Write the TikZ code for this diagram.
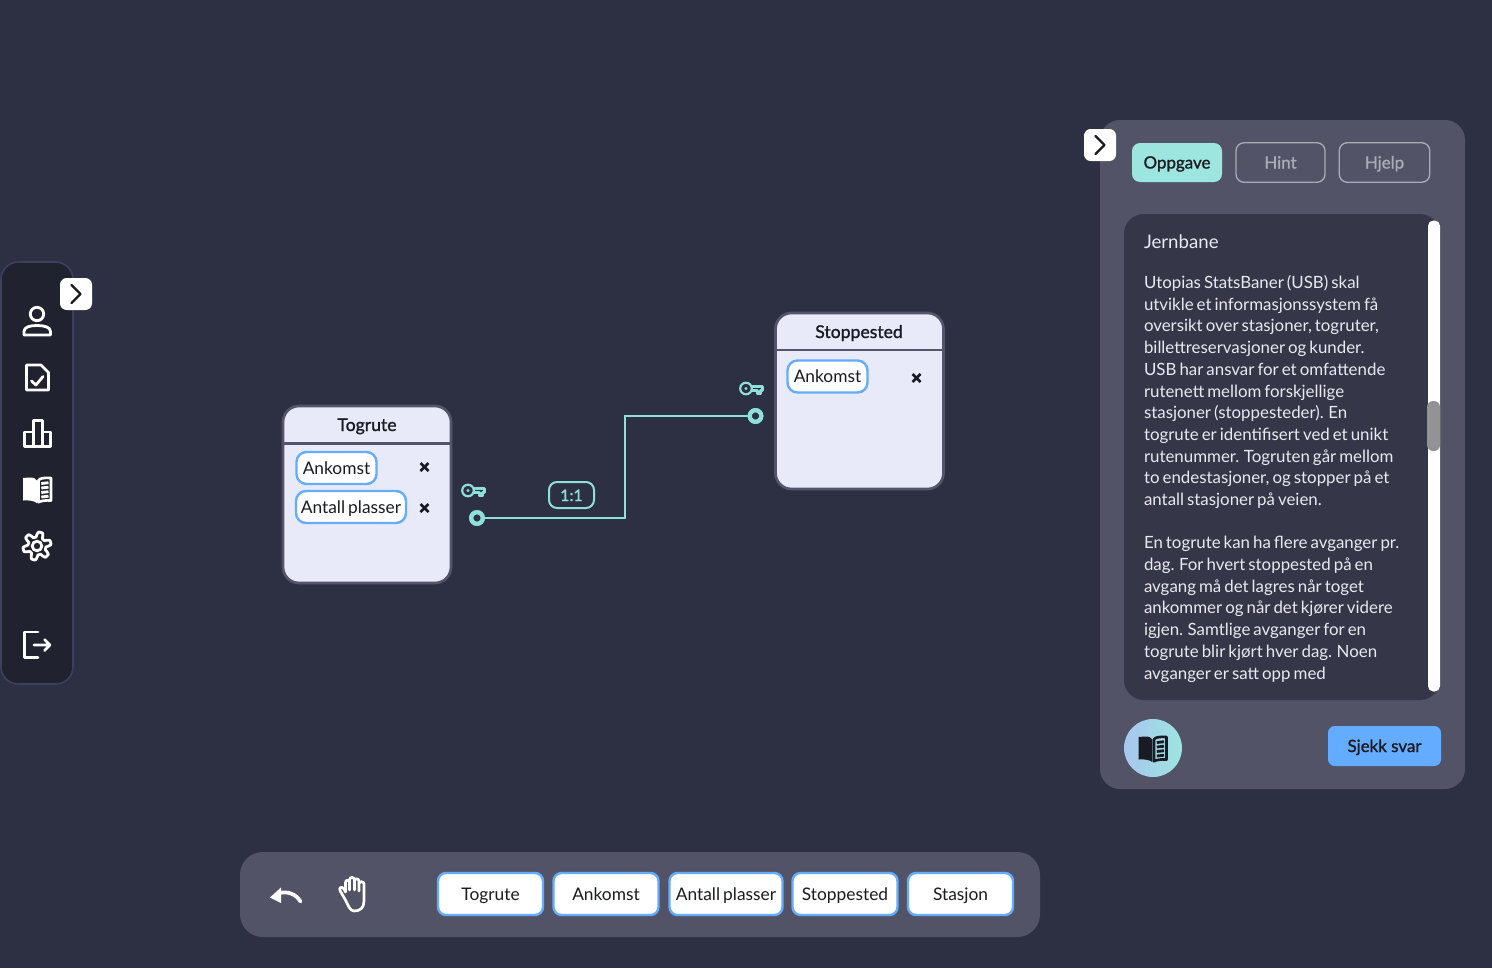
\documentclass[tikz,border=0pt]{standalone}
\usepackage{fontspec}
\setmainfont{Lato}
\newfontfamily\semi[FakeBold=1.2]{Lato}
\newfontfamily\bodyf[WordSpace=0.7]{Lato}
\usetikzlibrary{calc}
\definecolor{bgc}{HTML}{2D3043}
\definecolor{sidec}{HTML}{20222F}
\definecolor{sideb}{HTML}{3C3F60}
\definecolor{panelc}{HTML}{525366}
\definecolor{innerc}{HTML}{353648}
\definecolor{entc}{HTML}{E9EAF9}
\definecolor{entb}{HTML}{53556A}
\definecolor{bluec}{HTML}{64ACFF}
\definecolor{tealc}{HTML}{8FE0DA}
\definecolor{tabc}{HTML}{9DE5DF}
\definecolor{greyb}{HTML}{ABABB5}
\definecolor{inkc}{HTML}{1A1B22}
\definecolor{txtc}{HTML}{E9E9EF}
\definecolor{gradl}{HTML}{A8C6F0}
\def\u{0.75pt}
\tikzset{
  x=0.75pt,y=-0.75pt,
  rbox/.style={rectangle,inner sep=0,outer sep=0,align=center,text height=11.5pt,text depth=2.5pt},
  entity/.style={rbox,fill=entc,draw=entb,line width=2pt,rounded corners=12pt,minimum width=168*\u,minimum height=177*\u},
  pill/.style={rbox,fill=white,draw=bluec,line width=1.8pt,rounded corners=7.5pt,text=inkc,font=\bodyf\fontsize{13}{16}\selectfont},
  tool/.style={pill,rounded corners=6pt,minimum height=42*\u},
  tab/.style={rbox,rounded corners=6pt,font=\semi\fontsize{12.7}{16}\selectfont},
  title/.style={inner sep=0,outer sep=0,text=inkc,text height=11.5pt,text depth=2.5pt,font=\semi\fontsize{13.2}{16}\selectfont},
  para/.style={anchor=base west,inner sep=0,outer sep=0,text=txtc,font=\bodyf\fontsize{12.65}{16}\selectfont},
  chev/.style={rbox,fill=white,rounded corners=5pt,minimum width=32*\u,minimum height=32*\u},
  icon/.style={draw=white,line width=2.1pt,line join=round,line cap=round},
  endp/.style={circle,draw=tealc,fill=bgc,line width=3.2pt,minimum size=11.5*\u,inner sep=0,outer sep=0},
  keyline/.style={draw=tealc,line width=1.6pt,line join=round},
  xmark/.pic={\draw[inkc,line width=2pt] (-4,-4)--(4,4) (-4,4)--(4,-4);},
  keyicon/.pic={
    \draw[keyline] (7,6.5) circle[radius=5.8];
    \fill[tealc] (7,6.5) circle[radius=1.7];
    \draw[keyline] (12.8,4.5)--(23.5,4.5)--(23.5,8.5)--(21.5,8.5)--(21.5,12)--(18.5,12)--(18.5,8.5)--(12.8,8.5);
  },
  chevmark/.pic={\draw[inkc,line width=1.8pt,line cap=round,line join=round] (-4.5,-9)--(4.5,0)--(-4.5,9);},
  pics/book/.style={code={
    \fill[#1] (-14.5,-11) -- (-8,-11.5) .. controls (-4,-11.5) and (-1.5,-10.5) .. (-0.7,-8.5) -- (-0.7,14) .. controls (-3,12) and (-8,11) .. (-14.5,11.5) -- cycle;
    \draw[#1,line width=2pt,line join=round] (1,-8.5) .. controls (2,-10.5) and (5,-11.5) .. (13.5,-11) -- (13.5,11.5) .. controls (8,11) and (3,12) .. (1,13.2) -- cycle;
    \foreach \s in {-5.5,-1,3.5,8}{\draw[#1,line width=2.1pt] (3.8,\s)--(11,\s-0.8);}
  }},
}
\begin{document}
\begin{tikzpicture}
\useasboundingbox (0,0) rectangle (1492,968);
\fill[bgc] (0,0) rectangle (1492,968);

% left sidebar
\node[rbox,fill=sidec,draw=sideb,line width=1.2pt,rounded corners=13pt,minimum width=72*\u,minimum height=422*\u] (side) at (37,473) {};
\node[chev] (sidechev) at (76,294) {};
\pic at (sidechev) {chevmark};
% person
\draw[icon] (37,314) circle[radius=6.7];
\draw[icon] (24,335) -- (24,331.5) .. controls (24,327) and (30,325.5) .. (37,325.5) .. controls (44,325.5) and (50.5,327) .. (50.5,331.5) -- (50.5,335) -- cycle;
% document
\draw[icon] (26.5,365) -- (41,365) -- (48.5,372.5) -- (48.5,390) -- (26.5,390) -- cycle;
\draw[icon] (31.5,381) -- (36,385) -- (43,376.5);
% bars
\draw[icon,line cap=butt] (24.5,446.5) rectangle (33.5,432) (33.5,446.5) rectangle (42.5,420.5) (42.5,446.5) rectangle (50.5,432);
% book
\pic at (37.5,489) {book=white};
% gear
\draw[icon] plot[domain=0:360,samples=145] ({37+(11.5+2.6*max(-1,min(1,1.6*cos(6*\x+90))))*cos(\x)},{546+(11.5+2.6*max(-1,min(1,1.6*cos(6*\x+90))))*sin(\x)}) -- cycle;
\draw[icon] (37,546) circle[radius=4.8];
% logout
\draw[icon] (38,632) -- (24.5,632) -- (24.5,657.5) -- (38,657.5);
\draw[icon] (34,645) -- (50,645) (44.5,639.5) -- (50,645) -- (44.5,650.5);

% entities
\node[entity] (togrute) at (367,494.5) {};
\draw[entb,line width=1.8pt] (283,443.5) -- (451,443.5);
\node[title] (togrutet) at (367,425) {Togrute};
\node[pill,minimum width=80*\u,minimum height=32*\u] (a1) at (336.5,468) {Ankomst};
\node[pill,minimum width=110*\u,minimum height=32*\u] (a2) at (351,507) {Antall plasser};
\pic at (424.5,467) {xmark};
\pic at (424.5,508) {xmark};

\node[entity,minimum height=176*\u] (stopp) at (859.5,401) {};
\draw[entb,line width=1.8pt] (776,350) -- (943,350);
\node[title] (stoppt) at (859,332) {Stoppested};
\node[pill,minimum width=80*\u,minimum height=32*\u] (a3) at (827.5,376.5) {Ankomst};
\pic at (916.5,378) {xmark};

% connector
\node[endp] (ca) at (477,518) {};
\node[endp] (cb) at (755.5,416) {};
\coordinate (bend) at (625,467);
\draw[tealc,line width=1.5pt] (ca) -| (bend) |- (cb);
\node[endp] at (ca) {};
\node[endp] at (cb) {};
\pic at (461,484) {keyicon};
\pic at (739,382) {keyicon};
\node[rbox,draw=tealc,line width=1.5pt,rounded corners=6pt,minimum width=45*\u,minimum height=26*\u,text=tealc,font=\semi\fontsize{12}{14}\selectfont] (card) at (571.5,495) {1:1};

% right panel
\node[rbox,fill=panelc,rounded corners=15pt,minimum width=365*\u,minimum height=669*\u] (panel) at (1282.5,454.5) {};
\node[chev] (panelchev) at (1100,145) {};
\pic at (panelchev) {chevmark};
\node[tab,fill=tabc,text=inkc,minimum width=90*\u,minimum height=39*\u] (t1) at (1177,162.5) {Oppgave};
\node[tab,draw=greyb,line width=1pt,text=greyb,minimum width=89*\u,minimum height=39.5*\u] (t2) at (1280.5,162.5) {Hint};
\node[tab,draw=greyb,line width=1pt,text=greyb,minimum width=90.5*\u,minimum height=39.5*\u] (t3) at (1384.5,162.5) {Hjelp};
\node[rbox,fill=innerc,rounded corners=15pt,minimum width=316*\u,minimum height=486*\u] (inner) at (1282,457) {};
\node[rbox,fill=white,rounded corners=4pt,minimum width=12*\u,minimum height=471*\u] (sbar) at (1434,456) {};
\node[rbox,fill=gray!85!white,rounded corners=4.5pt,minimum width=13*\u,minimum height=50*\u] (thumb) at (1433.5,426) {};
\node[para,font=\fontsize{14}{16}\selectfont] (head) at (1144,248) {Jernbane};
\node[para] (l01) at (1144,288) {Utopias StatsBaner (USB) skal};
\node[para] (l02) at (1144,310) {utvikle et informasjonssystem få};
\node[para] (l03) at (1144,331) {oversikt over stasjoner, togruter,};
\node[para] (l04) at (1144,353) {billettreservasjoner og kunder.};
\node[para] (l05) at (1144,375) {USB har ansvar for et omfattende};
\node[para] (l06) at (1144,397) {rutenett mellom forskjellige};
\node[para] (l07) at (1144,418) {stasjoner (stoppesteder). En};
\node[para] (l08) at (1144,440) {togrute er identifisert ved et unikt};
\node[para] (l09) at (1144,462) {rutenummer. Togruten går mellom};
\node[para] (l10) at (1144,483.5) {to endestasjoner, og stopper på et};
\node[para] (l11) at (1144,505) {antall stasjoner på veien.};
\node[para] (l12) at (1144,548) {En togrute kan ha flere avganger pr.};
\node[para] (l13) at (1144,570) {dag. For hvert stoppested på en};
\node[para] (l14) at (1144,592) {avgang må det lagres når toget};
\node[para] (l15) at (1144,613) {ankommer og når det kjører videre};
\node[para] (l16) at (1144,635) {igjen. Samtlige avganger for en};
\node[para] (l17) at (1144,657) {togrute blir kjørt hver dag. Noen};
\node[para] (l18) at (1144,679) {avganger er satt opp med};
\node[circle,inner sep=0,outer sep=0,minimum size=58*\u,left color=gradl,right color=tabc] (bookb) at (1153,748) {};
\pic at (1153,748) {book=inkc};
\node[tab,fill=bluec,text=inkc,rounded corners=5pt,minimum width=113*\u,minimum height=40*\u] (check) at (1384.5,746) {Sjekk svar};

% bottom toolbar
\node[rbox,fill=panelc,rounded corners=17pt,minimum width=800*\u,minimum height=85*\u] (bar) at (640,894.5) {};
\fill[white] (270,897.5) -- (281,887.5) -- (281,903) -- cycle;
\draw[white,line width=2.8pt,line cap=round] (279,893) .. controls (288,891) and (296,894) .. (300.5,901.5);
% hand
\draw[icon,line width=2pt] (346,901) -- (340,890.5) .. controls (338.5,887.5) and (342,886) .. (344,889) -- (345.5,892)
  -- (345.5,882.5) .. controls (345.5,879.5) and (349.5,879.5) .. (349.5,882.5) -- (349.5,890)
  -- (349.5,880) .. controls (349.5,876.5) and (354.5,876.5) .. (354.5,880) -- (354.5,890)
  -- (354.5,881) .. controls (354.5,878) and (359,878) .. (359,881) -- (359,891)
  -- (359,884) .. controls (359,881) and (364,881) .. (364,884)
  -- (364,901) .. controls (364,908) and (360,911) .. (354,911) .. controls (350,911) and (348,905) .. (346,901) -- cycle;
\node[tool,minimum width=105*\u] (b1) at (490.5,894) {Togrute};
\node[tool,minimum width=105*\u] (b2) at (606,894) {Ankomst};
\node[tool,minimum width=113*\u] (b3) at (726,894) {Antall plasser};
\node[tool,minimum width=105*\u] (b4) at (845,894) {Stoppested};
\node[tool,minimum width=105*\u] (b5) at (960.5,894) {Stasjon};
\end{tikzpicture}
\end{document}
